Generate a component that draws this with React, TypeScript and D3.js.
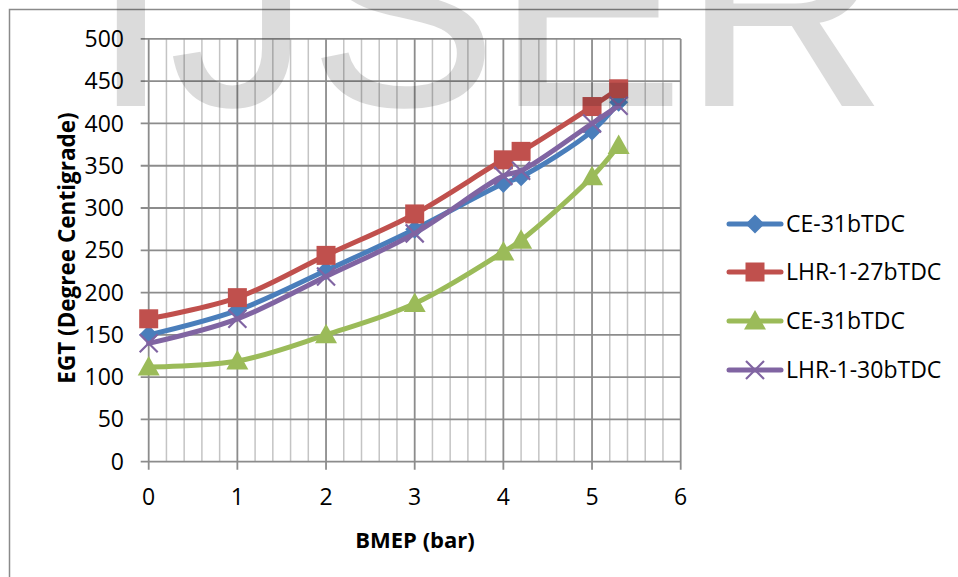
import React, { useEffect, useRef } from 'react';
import * as d3 from 'd3';

// BMEP (bar) values shared by all series
const bmep = [0, 1, 2, 3, 4, 4.2, 5, 5.3];

// EGT values per series
const ce31 = [150, 179, 226, 275, 329, 337, 391, 425];
const lhr27 = [169, 194, 244, 293, 357, 367, 420, 441];
const ce31b = [112, 119, 150, 187, 248, 262, 337, 374];
const lhr30 = [140, 169, 219, 270, 338, 344, 400, 421];

const seriesNames = ['CE-31bTDC', 'LHR-1-27bTDC', 'CE-31bTDC', 'LHR-1-30bTDC'];
const seriesColors = ['#4a7ebb', '#c0504d', '#9bbb59', '#8064a2'];
const seriesMarkers = ['diamond', 'square', 'triangle', 'cross'];

const xTicks = [0, 1, 2, 3, 4, 5, 6];
const yTicks = [0, 50, 100, 150, 200, 250, 300, 350, 400, 450, 500];

const FONT = "'Open Sans', 'Noto Sans', sans-serif";

const App: React.FC = () => {
  const svgRef = useRef<SVGSVGElement>(null);

  useEffect(() => {
    if (!svgRef.current) return;
    const svg = d3.select(svgRef.current);
    svg.selectAll('*').remove();

    const width = 958;
    const height = 577;

    svg.attr('width', width).attr('height', height);

    svg.append('rect')
      .attr('x', 0).attr('y', 0)
      .attr('width', width).attr('height', height)
      .attr('fill', '#fff');

    // chart border
    svg.append('rect')
      .attr('x', 9.5).attr('y', 9.5)
      .attr('width', 1000).attr('height', 700)
      .attr('fill', 'none')
      .attr('stroke', '#8a8a8a')
      .attr('stroke-width', 1.5);

    const x = d3.scaleLinear().domain([0, 6]).range([148.7, 680.7]);
    const y = d3.scaleLinear().domain([0, 500]).range([461.7, 38.9]);

    const g = svg.append('g');

    // minor vertical gridlines
    const minor = d3.range(0, 30).map(i => i * 0.2).filter(v => Math.abs(v - Math.round(v)) > 1e-6);
    g.selectAll('.minor')
      .data(minor)
      .enter().append('line')
      .attr('x1', d => x(d)).attr('x2', d => x(d))
      .attr('y1', y(0)).attr('y2', y(500))
      .attr('stroke', '#c4c4c4')
      .attr('stroke-width', 1.5);

    // major vertical gridlines + ticks
    g.selectAll('.vmajor')
      .data(xTicks)
      .enter().append('line')
      .attr('x1', d => x(d)).attr('x2', d => x(d))
      .attr('y1', y(0) + 8).attr('y2', y(500))
      .attr('stroke', '#8c8c8c')
      .attr('stroke-width', 1.8);

    // horizontal gridlines + ticks
    g.selectAll('.hmajor')
      .data(yTicks)
      .enter().append('line')
      .attr('x1', x(0) - 8).attr('x2', x(6))
      .attr('y1', d => y(d)).attr('y2', d => y(d))
      .attr('stroke', '#8c8c8c')
      .attr('stroke-width', 1.8);

    // tick labels
    g.selectAll('.ylab')
      .data(yTicks)
      .enter().append('text')
      .attr('x', 124)
      .attr('y', d => y(d))
      .attr('dy', '0.35em')
      .attr('text-anchor', 'end')
      .style('font-family', FONT)
      .style('font-size', '23px')
      .style('fill', '#000')
      .text(d => d);

    g.selectAll('.xlab')
      .data(xTicks)
      .enter().append('text')
      .attr('x', d => x(d))
      .attr('y', 497)
      .attr('dy', '0.35em')
      .attr('text-anchor', 'middle')
      .style('font-family', FONT)
      .style('font-size', '23px')
      .style('fill', '#000')
      .text(d => d);

    // axis titles
    svg.append('text')
      .attr('x', 415)
      .attr('y', 540)
      .attr('dy', '0.35em')
      .attr('text-anchor', 'middle')
      .style('font-family', FONT)
      .style('font-size', '22px')
      .style('font-weight', 'bold')
      .text('BMEP (bar)');

    svg.append('text')
      .attr('transform', 'translate(67,248) rotate(-90)')
      .attr('dy', '0.35em')
      .attr('text-anchor', 'middle')
      .style('font-family', FONT)
      .style('font-size', '22.5px')
      .style('font-weight', 'bold')
      .text('EGT (Degree Centigrade)');

    const drawMarker = (sel: any, kind: string, color: string, cx: number, cy: number) => {
      if (kind === 'diamond') {
        sel.append('path')
          .attr('d', `M${cx},${cy - 9.5}L${cx + 9.5},${cy}L${cx},${cy + 9.5}L${cx - 9.5},${cy}Z`)
          .attr('fill', color);
      } else if (kind === 'square') {
        sel.append('rect')
          .attr('x', cx - 9.5).attr('y', cy - 9.5)
          .attr('width', 19).attr('height', 19)
          .attr('fill', color);
      } else if (kind === 'triangle') {
        sel.append('path')
          .attr('d', `M${cx},${cy - 11}L${cx + 11},${cy + 8.5}L${cx - 11},${cy + 8.5}Z`)
          .attr('fill', color);
      } else {
        sel.append('path')
          .attr('d', `M${cx - 9},${cy - 9}L${cx + 9},${cy + 9}M${cx - 9},${cy + 9}L${cx + 9},${cy - 9}`)
          .attr('stroke', color)
          .attr('stroke-width', 2.2)
          .attr('fill', 'none');
      }
    };

    const allSeries = [ce31, lhr27, ce31b, lhr30];
    const line = d3.line<[number, number]>()
      .x(d => x(d[0]))
      .y(d => y(d[1]))
      .curve(d3.curveCatmullRom.alpha(0.5));

    allSeries.forEach((vals, i) => {
      const pts: [number, number][] = bmep.map((b, j) => [b, vals[j]]);
      const sg = svg.append('g');
      sg.append('path')
        .datum(pts)
        .attr('d', line)
        .attr('fill', 'none')
        .attr('stroke', seriesColors[i])
        .attr('stroke-width', 5)
        .attr('stroke-linejoin', 'round')
        .attr('stroke-linecap', 'round');
      pts.forEach(p => drawMarker(sg, seriesMarkers[i], seriesColors[i], x(p[0]), y(p[1])));
    });

    // legend
    const legendY = [224, 272, 321, 370];
    seriesNames.forEach((name, i) => {
      const lg = svg.append('g');
      lg.append('line')
        .attr('x1', 729).attr('x2', 781)
        .attr('y1', legendY[i]).attr('y2', legendY[i])
        .attr('stroke', seriesColors[i])
        .attr('stroke-width', 5)
        .attr('stroke-linecap', 'round');
      drawMarker(lg, seriesMarkers[i], seriesColors[i], 755, legendY[i]);
      lg.append('text')
        .attr('x', 786)
        .attr('y', legendY[i])
        .attr('dy', '0.35em')
        .style('font-family', FONT)
        .style('font-size', '23px')
        .style('fill', '#000')
        .text(name);
    });

    // watermark, translucent over everything
    svg.append('g')
      .attr('opacity', 0.137)
      .append('text')
      .attr('x', 92)
      .attr('y', 105)
      .style('font-family', "'Liberation Sans', Arial, sans-serif")
      .style('font-size', '280px')
      .style('fill', '#000')
      .style('stroke', '#000')
      .style('stroke-width', 2)
      .text('IJSER');
  }, []);

  return (
    <svg ref={svgRef} style={{ position: 'absolute', left: 0, top: 0, display: 'block' }}></svg>
  );
};

export default App;
